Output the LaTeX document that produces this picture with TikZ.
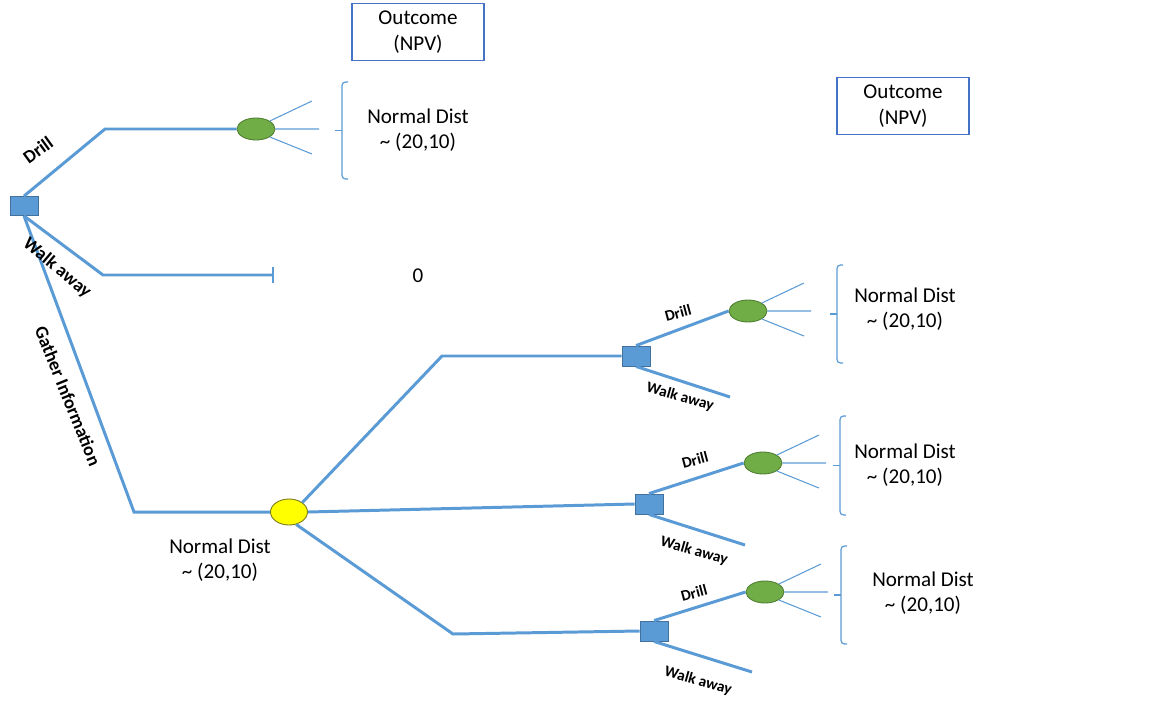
\documentclass[tikz,border=0pt]{standalone}
\usepackage{fontspec}
\setmainfont{Carlito}
\usetikzlibrary{shapes.geometric}

\definecolor{lineblue}{RGB}{91,155,213}
\definecolor{boxedge}{RGB}{65,113,156}
\definecolor{chancegreen}{RGB}{112,173,71}
\definecolor{greenedge}{RGB}{80,126,50}
\definecolor{infoyellow}{RGB}{255,255,0}
\definecolor{yellowedge}{RGB}{120,120,30}
\definecolor{outline}{RGB}{68,114,196}

\tikzset{
  branch/.style={draw=lineblue, line width=1.7pt},
  fan/.style={draw=lineblue, line width=0.6pt},
  bracket/.style={draw=lineblue, line width=0.7pt, rounded corners=2pt},
  decision/.style={rectangle, draw=boxedge, fill=lineblue, line width=0.5pt,
    inner sep=0pt, minimum width=0.56cm, minimum height=0.38cm},
  chance/.style={ellipse, draw=greenedge, fill=chancegreen, line width=0.5pt,
    inner sep=0pt, minimum width=0.76cm, minimum height=0.44cm},
  info/.style={ellipse, draw=yellowedge, fill=infoyellow, line width=0.5pt,
    inner sep=0pt, minimum width=0.74cm, minimum height=0.52cm},
  txt/.style={align=center, inner sep=0pt, font=\fontsize{12}{14.6}\selectfont},
  outbox/.style={txt, draw=outline, line width=0.6pt, minimum width=2.64cm, minimum height=1.14cm},
  toplbl/.style={inner sep=0pt, font=\bfseries\fontsize{10.5}{12}\selectfont},
  sublbl/.style={inner sep=0pt, font=\bfseries\fontsize{8.8}{10}\selectfont}
}

\begin{document}
\begin{tikzpicture}[x=0.02cm, y=-0.02cm]
  \useasboundingbox (0,0) rectangle (1152,720);

  % first decision and its three branches
  \node[decision] (d0) at (24,206) {};
  \node[chance] (c0) at (256,129) {};
  \coordinate (k0) at (105,129);
  \coordinate (k1) at (103,275);
  \coordinate (w0) at (273,275);
  \coordinate (k2) at (134,512);
  \node[info] (g) at (289,512) {};

  \draw[branch] (d0.north) -- (k0) -- (c0.west);
  \draw[branch] (d0.south) -- (k1) -- (w0);
  \draw[lineblue, line width=0.9pt] (273,267) -- (273,283);
  \draw[branch] (d0.south) -- (k2) -- (g.west);

  \node[toplbl, rotate=36] (l0) at (38,150) {Drill};
  \node[toplbl, rotate=-40] (l1) at (57,268) {Walk away};
  \node[toplbl, rotate=-68] (l2) at (68,396) {Gather Information};

  % chance node after gathering information
  \coordinate (k3) at (442,356);
  \coordinate (k4) at (453,634);
  \node[decision, minimum height=0.4cm] (d1) at (636,356) {};
  \node[decision, minimum height=0.4cm] (d2) at (649,504) {};
  \node[decision, minimum height=0.4cm] (d3) at (654,631) {};

  \draw[branch] (g.north east) -- (k3) -- (d1.west);
  \draw[branch] (g.east) -- (d2.west);
  \draw[branch] (g.-60) -- (k4) -- (d3.west);

  % second stage decisions
  \node[chance] (c1) at (748,311) {};
  \node[chance] (c2) at (763,463) {};
  \node[chance] (c3) at (765,592) {};
  \coordinate (w1) at (730,397);
  \coordinate (w2) at (745,545);
  \coordinate (w3) at (752,672);

  \draw[branch] (d1.north) -- (c1.west);
  \draw[branch] (d1.south) -- (w1);
  \draw[branch] (d2.north) -- (c2.west);
  \draw[branch] (d2.south) -- (w2);
  \draw[branch] (d3.north) -- (c3.west);
  \draw[branch] (d3.south) -- (w3);

  \node[sublbl, rotate=15] (dl1) at (678,313) {Drill};
  \node[sublbl, rotate=-16] (wl1) at (680,397) {Walk away};
  \node[sublbl, rotate=15] (dl2) at (695,460) {Drill};
  \node[sublbl, rotate=-16] (wl2) at (694,551) {Walk away};
  \node[sublbl, rotate=15] (dl3) at (694,593) {Drill};
  \node[sublbl, rotate=-16] (wl3) at (698,681) {Walk away};

  % outcome fans
  \foreach \c in {c0,c1,c2,c3}{
    \coordinate (\c a) at ([shift={(56,-28)}]\c.center);
    \coordinate (\c b) at ([shift={(63,0)}]\c.center);
    \coordinate (\c c) at ([shift={(56,25)}]\c.center);
    \draw[fan] (\c.30) -- (\c a) (\c.east) -- (\c b) (\c.-30) -- (\c c);
  }

  % brackets
  \foreach \x/\yt/\yb in {342/82/179, 837/265/363, 840/416/515, 841/546/644}{
    \draw[bracket] ({\x+6},\yt) -| (\x,\yb) -- ({\x+6},\yb);
    \draw[lineblue, line width=0.7pt] (\x,{(\yt+\yb)/2}) -- ({\x-7},{(\yt+\yb)/2});
  }

  % texts
  \node[outbox] (o1) at (418,32) {Outcome\\(NPV)};
  \node[outbox] (o2) at (903,106) {Outcome\\(NPV)};
  \node[txt] (n0) at (418,130) {Normal Dist\\\textasciitilde{} (20,10)};
  \node[txt] (z0) at (418,276) {0};
  \node[txt] (ng) at (220,560) {Normal Dist\\\textasciitilde{} (20,10)};
  \node[txt] (n1) at (905,309) {Normal Dist\\\textasciitilde{} (20,10)};
  \node[txt] (n2) at (905,465) {Normal Dist\\\textasciitilde{} (20,10)};
  \node[txt] (n3) at (923,593) {Normal Dist\\\textasciitilde{} (20,10)};
\end{tikzpicture}
\end{document}
